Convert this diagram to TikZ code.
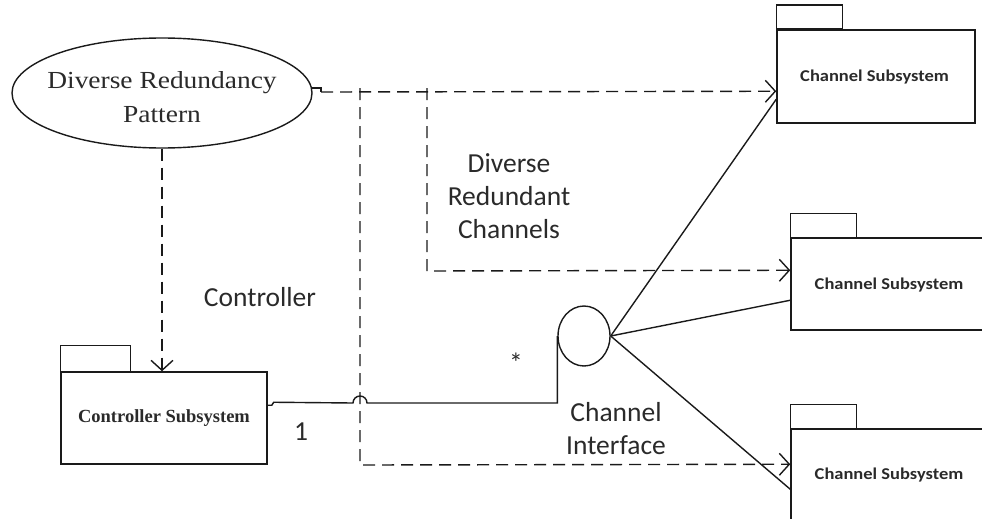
\documentclass[tikz,border=0pt]{standalone}
\usepackage{fontspec}
\setmainfont{Liberation Serif}
\newfontfamily\labelfont{Carlito}
\usetikzlibrary{arrows.meta,shapes.geometric,calc}
\definecolor{ink}{HTML}{1A1A1A}
\definecolor{txt}{HTML}{2A2A2A}

\begin{document}
\begin{tikzpicture}[x=1pt, y=-1pt,
  line/.style={draw=ink, line width=1.4pt},
  dep/.style={line, dash pattern=on 12pt off 7pt},
  barb/.style={-{Straight Barb[length=10pt,width=22pt,line width=1.4pt]}},
  pkg/.style={draw=ink, line width=1.5pt, rectangle, inner sep=0pt},
  tab/.style={draw=ink, line width=1.5pt},
  chtext/.style={font=\labelfont\bfseries\fontsize{16.5}{20}\selectfont, text=txt},
  lbl/.style={font=\labelfont\fontsize{27.5}{33}\selectfont, text=txt, align=center, inner sep=0pt},
]
\useasboundingbox (0,0) rectangle (982,519);
\clip (0,0) rectangle (982,519);

% use case ellipse and its name
\node[ellipse, draw=ink, line width=1.4pt, minimum width=300pt, minimum height=110pt, inner sep=0pt] (pattern) at (162,93) {};
\node[font=\fontsize{24.5}{34}\selectfont, text=txt, align=center, inner sep=0pt,
      xscale=1.12, transform shape] (patternname) at (162,97) {Diverse Redundancy\\Pattern};

% packages
\node[pkg, minimum width=206pt, minimum height=92pt,
      font=\bfseries\fontsize{18.5}{22}\selectfont, text=txt] (ctrl) at (164,418) {Controller Subsystem};
\draw[tab] (ctrl.north west) rectangle ++(70,-26);

\node[pkg, minimum width=198pt, minimum height=93pt] (ch1) at (876,76.5) {};
\node[chtext, xscale=1.12, transform shape] (ch1name) at (874.5,77) {Channel Subsystem};
\draw[tab] (ch1.north west) rectangle ++(66,-24);

\node[pkg, minimum width=196pt, minimum height=92pt] (ch2) at (889,284) {};
\node[chtext, xscale=1.12, transform shape] (ch2name) at (889,285) {Channel Subsystem};
\draw[tab] (ch2.north west) rectangle ++(66,-24);

\node[pkg, minimum width=196pt, minimum height=92pt] (ch3) at (889,475) {};
\node[chtext, xscale=1.12, transform shape] (ch3name) at (889,475) {Channel Subsystem};
\draw[tab] (ch3.north west) rectangle ++(66,-24);

% interface ball
\node[ellipse, draw=ink, line width=1.4pt, minimum width=52pt, minimum height=60pt, inner sep=0pt] (iface) at (584,336) {};

% dependencies from the pattern
\coordinate (stub) at (321,92);
\coordinate (j1) at (360,88);
\coordinate (j2) at (427,88);
\draw[line] ($(pattern.east)+(-1,-5)$) -- (321,88) -- (stub);
\draw[dep, barb] (stub) -- ($(ch1.north west)+(0,62)$);
\draw[dep, barb] (j2) -- (j2 |- 0,271) -- ($(ch2.north west)+(0,33)$);
\draw[dep, barb] (j1) -- (j1 |- 0,465) -- ($(ch3.north west)+(0,36)$);
\draw[dep, barb] (pattern.south) -- (ctrl.north -| pattern.south);

% controller to the interface, hopping over the dependency
\draw[line] ($(ctrl.north east)+(0,34)$) -- ++(4,0) -- ++(2,-3) -- (353,403)
  arc[start angle=180, end angle=360, radius=7] -- (iface.west |- 0,403) -- (iface.west);

% interface to the channels
\draw[line] (iface.east) -- ($(ch1.north west)+(0,70)$);
\draw[line] (iface.east) -- ($(ch2.north west)+(0,63)$);
\draw[line] (iface.east) -- ($(ch3.north west)+(0,61)$);

% role names and multiplicities
\node[lbl, anchor=base] (ctrlrole) at (260,306) {Controller};
\node[lbl] (chrole) at (509,196) {Diverse\\Redundant\\Channels};
\node[lbl] (ifrole) at (616,429) {Channel\\Interface};
\node[lbl, anchor=base] (one) at (301,440) {1};
\node[lbl, anchor=base] (many) at (516,372) {*};
\end{tikzpicture}
\end{document}
